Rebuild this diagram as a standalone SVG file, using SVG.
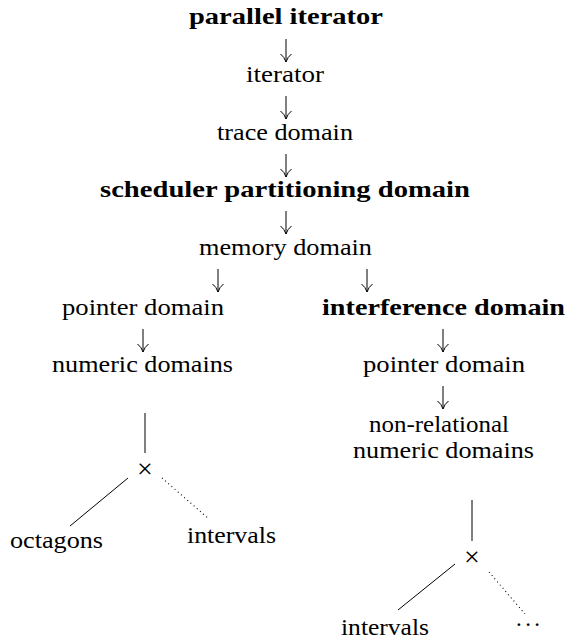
<svg xmlns="http://www.w3.org/2000/svg" width="570" height="641" viewBox="0 0 570 641">
<style>
  text { font-family: "Liberation Serif", "DejaVu Serif", serif; font-size: 23px; fill: #000; }
  .b { font-weight: bold; }
  .op { font-size: 28px; }
  .arr { fill: none; stroke: #000; stroke-width: 1; }
  .edge { fill: none; stroke: #000; stroke-width: 1; }
  .dot { fill: none; stroke: #000; stroke-width: 1.1; stroke-dasharray: 1 3.2; }
</style>
<defs>
  <path id="down" class="arr" d="M0,0 V23 M-5.5,15 Q-1.5,18 0,23 Q1.5,18 5.5,15"/>
</defs>
<rect width="570" height="641" fill="#fff"/>
<g id="connectors">
  <use href="#down" x="286" y="39"/>
  <use href="#down" x="286" y="96"/>
  <use href="#down" x="286" y="154"/>
  <use href="#down" x="286" y="211"/>
  <use href="#down" x="218" y="269"/>
  <use href="#down" x="367" y="269"/>
  <use href="#down" x="143" y="329"/>
  <use href="#down" x="443" y="329"/>
  <use href="#down" x="443" y="386"/>
  <line class="edge" x1="145" y1="413" x2="145" y2="453"/>
  <line class="edge" x1="128" y1="478" x2="70" y2="526"/>
  <line class="dot" x1="162" y1="478" x2="209" y2="519"/>
  <line class="edge" x1="472" y1="500" x2="472" y2="541"/>
  <line class="edge" x1="455" y1="564" x2="398" y2="610"/>
  <line class="dot" x1="489" y1="572" x2="525" y2="614"/>
</g>
<g id="n-parallel-iterator"><text class="b" x="189" y="24" textLength="194" lengthAdjust="spacingAndGlyphs">parallel iterator</text></g>
<g id="n-iterator"><text x="246" y="82" textLength="78" lengthAdjust="spacingAndGlyphs">iterator</text></g>
<g id="n-trace-domain"><text x="217" y="140" textLength="136" lengthAdjust="spacingAndGlyphs">trace domain</text></g>
<g id="n-scheduler"><text class="b" x="100" y="197" textLength="370" lengthAdjust="spacingAndGlyphs">scheduler partitioning domain</text></g>
<g id="n-memory"><text x="199" y="255" textLength="173" lengthAdjust="spacingAndGlyphs">memory domain</text></g>
<g id="n-pointer-left"><text x="62" y="315" textLength="162" lengthAdjust="spacingAndGlyphs">pointer domain</text></g>
<g id="n-interference"><text class="b" x="322" y="315" textLength="243" lengthAdjust="spacingAndGlyphs">interference domain</text></g>
<g id="n-numeric-left"><text x="52" y="372" textLength="181" lengthAdjust="spacingAndGlyphs">numeric domains</text></g>
<g id="n-pointer-right"><text x="363" y="372" textLength="162" lengthAdjust="spacingAndGlyphs">pointer domain</text></g>
<g id="n-nonrel"><text x="369" y="432" textLength="140" lengthAdjust="spacingAndGlyphs">non-relational</text><text x="353" y="458" textLength="181" lengthAdjust="spacingAndGlyphs">numeric domains</text></g>
<g id="n-product-left"><text class="op" x="145" y="478" text-anchor="middle">×</text></g>
<g id="n-octagons"><text x="10" y="548" textLength="93" lengthAdjust="spacingAndGlyphs">octagons</text></g>
<g id="n-intervals-left"><text x="187" y="543" textLength="89" lengthAdjust="spacingAndGlyphs">intervals</text></g>
<g id="n-product-right"><text class="op" x="472" y="566" text-anchor="middle">×</text></g>
<g id="n-intervals-right"><text x="341" y="635" textLength="88" lengthAdjust="spacingAndGlyphs">intervals</text></g>
<g id="n-dots"><text x="516" y="626" textLength="24" lengthAdjust="spacing">...</text></g>
</svg>
